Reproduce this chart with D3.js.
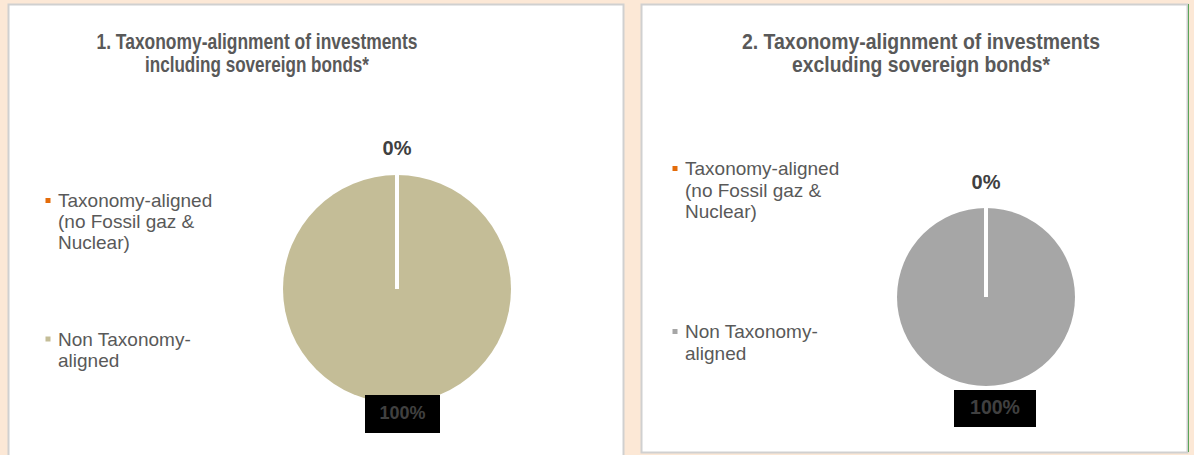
<!DOCTYPE html>
<html>
<head>
<meta charset="utf-8">
<script src="https://cdn.jsdelivr.net/npm/d3@7"></script>
<style>
  html, body { margin: 0; padding: 0; background: #fce8d6; }
  svg { display: block; }
</style>
</head>
<body>
<svg id="chart" width="1194" height="455"></svg>
<script>
// chart data
const CATEGORIES = ['Taxonomy-aligned (no Fossil gaz & Nuclear)', 'Non Taxonomy-aligned']
const LEGEND_LINES = [['Taxonomy-aligned', '(no Fossil gaz &', 'Nuclear)'], ['Non Taxonomy-', 'aligned']]
const VALUES_INCL = [0, 100]
const VALUES_EXCL = [0, 100]
const TITLES = [
  ['1. Taxonomy-alignment of investments', 'including sovereign bonds*'],
  ['2. Taxonomy-alignment of investments', 'excluding sovereign bonds*']
]
const PERCENT_FORMAT = d => d3.format(".0f")(d) + "%"

const FONT = "'Liberation Sans', Arial, sans-serif"
const TEXT_COLOR = "#595959"
const LABEL_COLOR = "#404040"

//the two chart images are squeezed differently, so titles are fit to a width
const panels = [
  { x: 8, y: 4, w: 615, h: 470, values: VALUES_INCL, title: TITLES[0], titleX: 257, titleW: [321, 224],
    colors: ['#e46c0a', '#c4bd97'], cx: 397, cy: 289, r: 114,
    legendX: 48, legendY: [200.5, 339], legendStep: 21, zeroY: 155,
    box: [365, 395, 75, 38], bigSize: 18, bigY: 419 },
  { x: 641, y: 4, w: 546, h: 448, values: VALUES_EXCL, title: TITLES[1], titleX: 921, titleW: [358, 258],
    colors: ['#e46c0a', '#a6a6a6'], cx: 986, cy: 297, r: 89,
    legendX: 675, legendY: [168.5, 331.5], legendStep: 21.5, zeroY: 189,
    box: [954, 390, 82, 37], bigSize: 19.5, bigY: 414 }
]

const svg = d3.select('#chart')
svg.append('rect').attr('width', 1194).attr('height', 455).attr('fill', '#fce8d6')

const pie = d3.pie().sort(null).value(d => d)

panels.forEach(p => {
  //Panel background with grey border
  svg.append('rect')
    .attr('x', p.x + 0.5).attr('y', p.y + 0.5)
    .attr('width', p.w).attr('height', p.h)
    .attr('fill', 'white')
    .attr('stroke', '#d0d0d0')
    .attr('stroke-width', 2)

  //Title
  const title = svg.append('text')
    .attr('text-anchor', 'middle')
    .attr('font-family', FONT)
    .attr('font-weight', 'bold')
    .attr('font-size', 21.5)
    .attr('fill', TEXT_COLOR)
  p.title.forEach((line, i) => {
    title.append('tspan')
      .attr('x', p.titleX).attr('y', 49 + i * 22.5)
      .attr('textLength', p.titleW[i])
      .attr('lengthAdjust', 'spacingAndGlyphs')
      .text(line)
  })

  //Pie
  const arc = d3.arc().innerRadius(0).outerRadius(p.r)
  const g = svg.append('g').attr('transform', `translate(${p.cx},${p.cy})`)
  const arcs = pie(p.values)
  g.selectAll('path.slice')
    .data(arcs.slice().reverse())
    .join('path')
    .attr('class', 'slice')
    .attr('d', arc)
    .attr('fill', d => p.colors[d.index])
  //0-value slice still shows as a white radius line
  arcs.filter(d => d.value === 0).forEach(d => {
    const a = d.startAngle
    g.append('line')
      .attr('x1', 0).attr('y1', 0)
      .attr('x2', Math.sin(a) * (p.r + 2)).attr('y2', -Math.cos(a) * (p.r + 2))
      .attr('stroke', 'white').attr('stroke-width', 4)
  })

  //Data labels
  svg.append('text')
    .attr('x', p.cx).attr('y', p.zeroY)
    .attr('text-anchor', 'middle')
    .attr('font-family', FONT).attr('font-weight', 'bold').attr('font-size', 20)
    .attr('fill', LABEL_COLOR)
    .text(PERCENT_FORMAT(p.values[0]))

  svg.append('rect')
    .attr('x', p.box[0]).attr('y', p.box[1])
    .attr('width', p.box[2]).attr('height', p.box[3])
    .attr('fill', 'black')
  svg.append('text')
    .attr('x', p.box[0] + p.box[2] / 2).attr('y', p.bigY)
    .attr('text-anchor', 'middle')
    .attr('font-family', FONT).attr('font-weight', 'bold').attr('font-size', p.bigSize)
    .attr('fill', LABEL_COLOR)
    .text(PERCENT_FORMAT(p.values[1]))

  //Legend
  CATEGORIES.forEach((cat, i) => {
    const ly = p.legendY[i]
    svg.append('rect')
      .attr('x', p.legendX - 2.5).attr('y', ly - 2.5)
      .attr('width', 5).attr('height', 5)
      .attr('fill', p.colors[i])
    const t = svg.append('text')
      .attr('font-family', FONT).attr('font-size', 19)
      .attr('fill', TEXT_COLOR)
    LEGEND_LINES[i].forEach((line, j) => {
      t.append('tspan').attr('x', p.legendX + 10).attr('y', ly + 6.5 + j * p.legendStep).text(line)
    })
  })
})

//thin green edge at the far right of the second panel
svg.append('line')
  .attr('x1', 1188.5).attr('x2', 1188.5).attr('y1', 4).attr('y2', 452)
  .attr('stroke', '#5aa55a').attr('stroke-width', 1)
</script>
</body>
</html>
